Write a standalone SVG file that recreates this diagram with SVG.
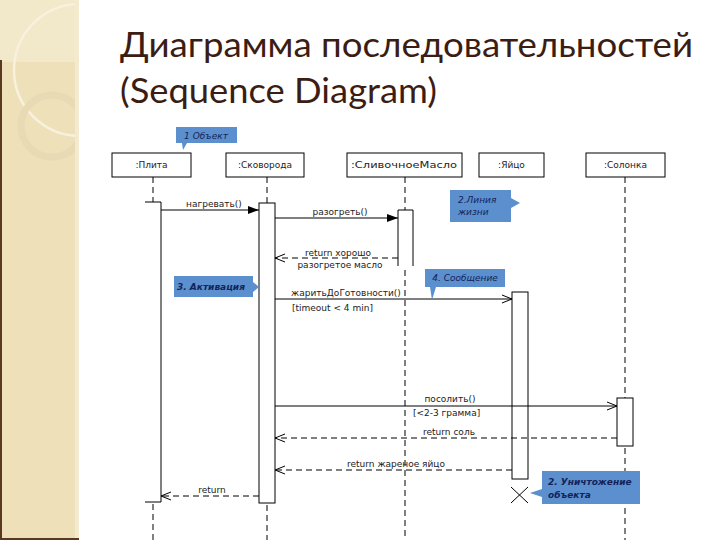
<svg xmlns="http://www.w3.org/2000/svg" width="720" height="540" viewBox="0 0 720 540">
<defs>
<style>
.title{font-family:Lato,"Open Sans","Noto Sans",sans-serif;font-size:34px;fill:#3b1d14}
.box{fill:#fff;stroke:#000;stroke-width:1}
.lbl{font-family:"DejaVu Sans","Liberation Sans",sans-serif;font-size:9px;fill:#222}
.life{stroke:#000;stroke-width:1;stroke-dasharray:6 4;fill:none}
.act{fill:#fff;stroke:#000;stroke-width:1}
.msg{stroke:#000;stroke-width:1;fill:none}
.ret{stroke:#000;stroke-width:1;fill:none;stroke-dasharray:6 4}
.call{fill:#5b8fcd}
.ctext{font-family:"DejaVu Sans","Liberation Sans",sans-serif;font-size:9px;font-style:italic;fill:#14245a}
</style>
<clipPath id="panel"><rect x="0" y="0" width="79" height="540"/></clipPath>
<marker id="filled" markerUnits="userSpaceOnUse" markerWidth="12" markerHeight="10" refX="11" refY="5" orient="auto">
<path d="M0,1 L11,5 L0,9 z" fill="#000"/>
</marker>
<marker id="open" markerUnits="userSpaceOnUse" markerWidth="12" markerHeight="10" refX="11" refY="5" orient="auto">
<path d="M1,1 L11,5 L1,9" fill="none" stroke="#000" stroke-width="1"/>
</marker>
</defs>

<!-- background panel -->
<rect x="0" y="0" width="720" height="540" fill="#fff"/>
<g clip-path="url(#panel)">
<rect x="0" y="0" width="79" height="540" fill="#eee1b9"/>
<rect x="0" y="0" width="79" height="62" fill="#f2e8ca"/>
<circle cx="80" cy="70" r="66" fill="none" stroke="#f8f1de" stroke-width="2.5"/>
<circle cx="52" cy="126" r="31" fill="none" stroke="#e7dab4" stroke-width="7"/>
</g>
<rect x="75" y="0" width="4" height="540" fill="#f4ead0"/>
<rect x="0" y="60" width="2" height="480" fill="#5a3a1e"/>
<rect x="0" y="538" width="79" height="2" fill="#5a3a1e"/>

<!-- title -->
<text class="title" x="120" y="57" textLength="573" lengthAdjust="spacingAndGlyphs">Диаграмма последовательностей</text>
<text class="title" x="120" y="103" textLength="317" lengthAdjust="spacingAndGlyphs">(Sequence Diagram)</text>

<!-- lifelines -->
<g id="plita">
<rect class="box" x="112" y="153" width="79" height="24"/>
<text class="lbl" x="151.5" y="168" text-anchor="middle">:Плита</text>
<line class="life" x1="153" y1="177" x2="153" y2="202"/>
<path d="M145,202 H161 V502 H145" fill="#fff" stroke="#000"/>
<line class="life" x1="153" y1="504" x2="153" y2="540"/>
</g>
<g id="skovoroda">
<rect class="box" x="226" y="153" width="78" height="24"/>
<text class="lbl" x="265" y="168" text-anchor="middle">:Сковорода</text>
<line class="life" x1="267" y1="177" x2="267" y2="203"/>
<rect class="act" x="259" y="203" width="16" height="300"/>
<line class="life" x1="267" y1="505" x2="267" y2="540"/>
</g>
<g id="maslo">
<rect class="box" x="347" y="153" width="115" height="24"/>
<text class="lbl" x="404" y="168" text-anchor="middle" textLength="106" lengthAdjust="spacingAndGlyphs">:СливочноеМасло</text>
<line class="life" x1="405" y1="177" x2="405" y2="210"/>
<path d="M398,266 V210 H413 V266" fill="#fff" stroke="#000"/>
<line class="life" x1="405" y1="270" x2="405" y2="540"/>
</g>
<g id="yaytso">
<rect class="box" x="479" y="153" width="65" height="24"/>
<text class="lbl" x="511.5" y="168" text-anchor="middle">:Яйцо</text>
<rect class="act" x="512" y="292" width="16" height="187"/>
<path d="M511,487 L528,503 M528,487 L511,503" stroke="#000" stroke-width="1"/>
</g>
<g id="solonka">
<rect class="box" x="586" y="153" width="79" height="24"/>
<text class="lbl" x="625.5" y="168" text-anchor="middle">:Солонка</text>
<line class="life" x1="625" y1="177" x2="625" y2="398"/>
<rect class="act" x="617" y="398" width="16" height="48"/>
<line class="life" x1="625" y1="448" x2="625" y2="540"/>
</g>

<!-- connectors -->
<g id="connectors">
<line class="msg" x1="161" y1="210" x2="259" y2="210" marker-end="url(#filled)"/>
<line class="msg" x1="275" y1="218" x2="398" y2="218" marker-end="url(#filled)"/>
<line class="ret" x1="398" y1="258" x2="275" y2="258" marker-end="url(#open)"/>
<line class="msg" x1="275" y1="299" x2="512" y2="299" marker-end="url(#open)"/>
<line class="msg" x1="275" y1="406" x2="617" y2="406" marker-end="url(#open)"/>
<line class="ret" x1="617" y1="438" x2="275" y2="438" marker-end="url(#open)"/>
<line class="ret" x1="512" y1="470" x2="275" y2="470" marker-end="url(#open)"/>
<line class="ret" x1="259" y1="496" x2="161" y2="496" marker-end="url(#open)"/>
</g>

<!-- message labels -->
<g id="labels">
<text class="lbl" x="214" y="207" text-anchor="middle">нагревать()</text>
<text class="lbl" x="340" y="215" text-anchor="middle">разогреть()</text>
<text class="lbl" x="338" y="256" text-anchor="middle">return хорошо</text>
<text class="lbl" x="340" y="268" text-anchor="middle">разогретое масло</text>
<text class="lbl" x="346" y="296" text-anchor="middle">жаритьДоГотовности()</text>
<text class="lbl" x="292" y="311">[timeout &lt; 4 min]</text>
<text class="lbl" x="450" y="402" text-anchor="middle">посолить()</text>
<text class="lbl" x="413" y="416">[&lt;2-3 грамма]</text>
<text class="lbl" x="449" y="435" text-anchor="middle">return соль</text>
<text class="lbl" x="396" y="467" text-anchor="middle">return жареное яйцо</text>
<text class="lbl" x="212" y="493" text-anchor="middle">return</text>
</g>

<!-- callouts -->
<g id="callout1">
<path class="call" d="M176,127 H237 V143 H187 L183,150 L182,143 H176 z"/>
<text class="ctext" x="206" y="138.5" text-anchor="middle">1 Объект</text>
</g>
<g id="callout2">
<path class="call" d="M450,190 H511 V198 L520,203 L511,208 V222 H450 z"/>
<text class="ctext" x="458" y="203">2.Линия</text>
<text class="ctext" x="458" y="215">жизни</text>
</g>
<g id="callout3">
<path class="call" d="M174,276 H253 V282 L259,287 L253,292 V297 H174 z"/>
<text class="ctext" x="177" y="290" font-weight="bold">3. Активация</text>
</g>
<g id="callout4">
<path class="call" d="M425,269 H505 V287 H436 L432,300 L430,287 H425 z"/>
<text class="ctext" x="465" y="281" text-anchor="middle">4. Сообщение</text>
</g>
<g id="callout5">
<path class="call" d="M542,471 H640 V504 H542 V497 L530,493 L542,489 z"/>
<text class="ctext" x="548" y="485" font-weight="bold">2. Уничтожение</text>
<text class="ctext" x="548" y="498" font-weight="bold">объекта</text>
</g>
</svg>
